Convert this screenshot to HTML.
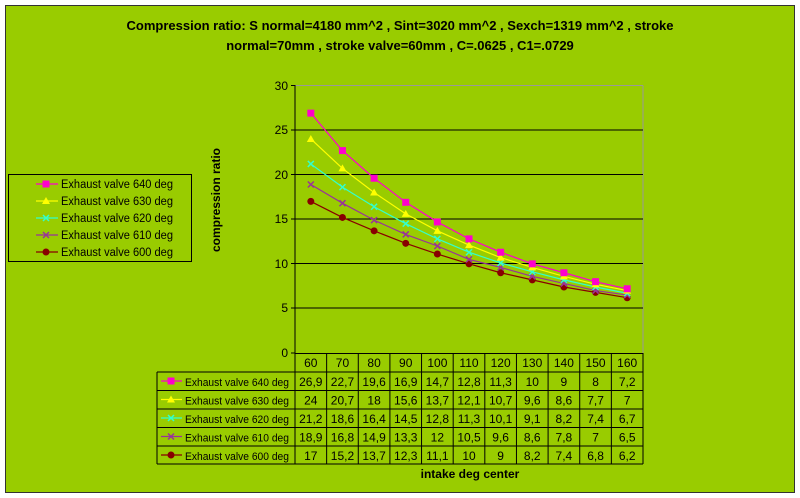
<!DOCTYPE html>
<html><head><meta charset="utf-8"><style>
body{margin:0;background:#fff;width:800px;height:498px;overflow:hidden}
svg{display:block;font-family:"Liberation Sans",Arial,sans-serif}
</style></head><body>
<svg width="800" height="498" viewBox="0 0 800 498" xmlns="http://www.w3.org/2000/svg">
<rect x="0" y="0" width="800" height="498" fill="#fff"/>
<rect x="5.5" y="5.5" width="789" height="487" fill="#99cc00" stroke="#333" stroke-width="1"/>
<text x="400" y="30" font-size="13" font-weight="bold" text-anchor="middle" fill="#000">Compression ratio:  S normal=4180 mm^2  , Sint=3020 mm^2  , Sexch=1319 mm^2 ,  stroke</text>
<text x="400" y="50" font-size="13" font-weight="bold" text-anchor="middle" fill="#000">normal=70mm , stroke valve=60mm , C=.0625 , C1=.0729</text>
<g id="plot">
<line x1="295" y1="85.5" x2="643" y2="85.5" stroke="#999"/>
<line x1="643" y1="85.5" x2="643" y2="353" stroke="#999"/>
<g stroke="#000" stroke-width="1">
<line x1="295" y1="130" x2="643" y2="130"/>
<line x1="295" y1="174.5" x2="643" y2="174.5"/>
<line x1="295" y1="219" x2="643" y2="219"/>
<line x1="295" y1="263.5" x2="643" y2="263.5"/>
<line x1="295" y1="308" x2="643" y2="308"/>
<line x1="295" y1="85" x2="295" y2="353"/>
<line x1="291" y1="85.5" x2="295" y2="85.5"/><line x1="291" y1="130" x2="295" y2="130"/><line x1="291" y1="174.5" x2="295" y2="174.5"/><line x1="291" y1="219" x2="295" y2="219"/><line x1="291" y1="263.5" x2="295" y2="263.5"/><line x1="291" y1="308" x2="295" y2="308"/><line x1="291" y1="353" x2="295" y2="353"/>
</g>
<g font-size="12" text-anchor="end" fill="#000">
<text x="288" y="90">30</text><text x="288" y="134">25</text><text x="288" y="179">20</text><text x="288" y="223">15</text><text x="288" y="268">10</text><text x="288" y="312">5</text><text x="288" y="357">0</text>
</g>
<text transform="translate(220,200) rotate(-90)" font-size="12" font-weight="bold" text-anchor="middle">compression ratio</text>
</g>
<g id="series"></g>
<g id="table" font-size="12" fill="#000"></g>
<text x="470" y="478" font-size="12" font-weight="bold" text-anchor="middle">intake deg center</text>
<rect x="8.5" y="174.5" width="183" height="87" fill="none" stroke="#000"/>
<g id="legend" font-size="12"></g>
</svg>
<script>
var data=[[26.9,22.7,19.6,16.9,14.7,12.8,11.3,10,9,8,7.2],[24,20.7,18,15.6,13.7,12.1,10.7,9.6,8.6,7.7,7],[21.2,18.6,16.4,14.5,12.8,11.3,10.1,9.1,8.2,7.4,6.7],[18.9,16.8,14.9,13.3,12,10.5,9.6,8.6,7.8,7,6.5],[17,15.2,13.7,12.3,11.1,10,9,8.2,7.4,6.8,6.2]];
var cols=["#ff00cc","#ffff00","#33ffcc","#993399","#880000"];
var names=["Exhaust valve 640 deg","Exhaust valve 630 deg","Exhaust valve 620 deg","Exhaust valve 610 deg","Exhaust valve 600 deg"];
var ns="http://www.w3.org/2000/svg";
function el(p,t,a,txt){var e=document.createElementNS(ns,t);for(var k in a)e.setAttribute(k,a[k]);if(txt!=null)e.textContent=txt;p.appendChild(e);return e;}
function mk(g,i,x,y){var c=cols[i];
 if(i==0)el(g,"rect",{x:x-3.5,y:y-3.5,width:7,height:7,fill:c});
 else if(i==1)el(g,"polygon",{points:(x)+","+(y-4)+" "+(x+4)+","+(y+3)+" "+(x-4)+","+(y+3),fill:c});
 else if(i==2||i==3){el(g,"path",{d:"M"+(x-3)+" "+(y-3)+"L"+(x+3)+" "+(y+3)+"M"+(x+3)+" "+(y-3)+"L"+(x-3)+" "+(y+3),stroke:c,"stroke-width":1.5});}
 else el(g,"circle",{cx:x,cy:y,r:3.5,fill:c});}
var S=document.getElementById("series"),T=document.getElementById("table"),L=document.getElementById("legend");
var cw=31.636,x0=295;
for(var i=4;i>=0;i--){var pts=data[i].map(function(v,j){return [x0+cw*(j+0.5),353-v*8.917];});
 el(S,"polyline",{points:pts.map(function(p){return p.join(",")}).join(" "),fill:"none",stroke:cols[i],"stroke-width":1.2});
 pts.forEach(function(p){mk(S,i,p[0],p[1]);});}
var ty=[353,372,390.5,409,427.5,446,464];
for(var j=0;j<=11;j++){var x=x0+cw*j;el(T,"line",{x1:x,y1:353,x2:x,y2:464,stroke:"#000"});}
el(T,"line",{x1:295,y1:353.5,x2:643,y2:353.5,stroke:"#000"});
el(T,"line",{x1:157,y1:372,x2:157,y2:464,stroke:"#000"});
for(var r=1;r<7;r++)el(T,"line",{x1:157,y1:ty[r],x2:643,y2:ty[r],stroke:"#000"});
for(var j=0;j<11;j++)el(T,"text",{x:x0+cw*(j+0.5),y:367,"text-anchor":"middle"},String(60+10*j));
for(var i=0;i<5;i++){var yy=ty[i+1]+14;
 for(var j=0;j<11;j++)el(T,"text",{x:x0+cw*(j+0.5),y:yy,"text-anchor":"middle"},String(data[i][j]).replace(".",","));
 el(T,"line",{x1:161,y1:yy-5,x2:182,y2:yy-5,stroke:cols[i],"stroke-width":1.2});mk(T,i,171,yy-5);
 el(T,"text",{x:185,y:yy,"font-size":"11",textLength:"104",lengthAdjust:"spacingAndGlyphs"},names[i]);
 var ly=188+i*17;
 el(L,"line",{x1:36,y1:ly-4,x2:58,y2:ly-4,stroke:cols[i],"stroke-width":1.2});mk(L,i,46,ly-4);
 el(L,"text",{x:61,y:ly,"font-size":"11.5",textLength:"112",lengthAdjust:"spacingAndGlyphs"},names[i]);}
</script>
</body></html>
